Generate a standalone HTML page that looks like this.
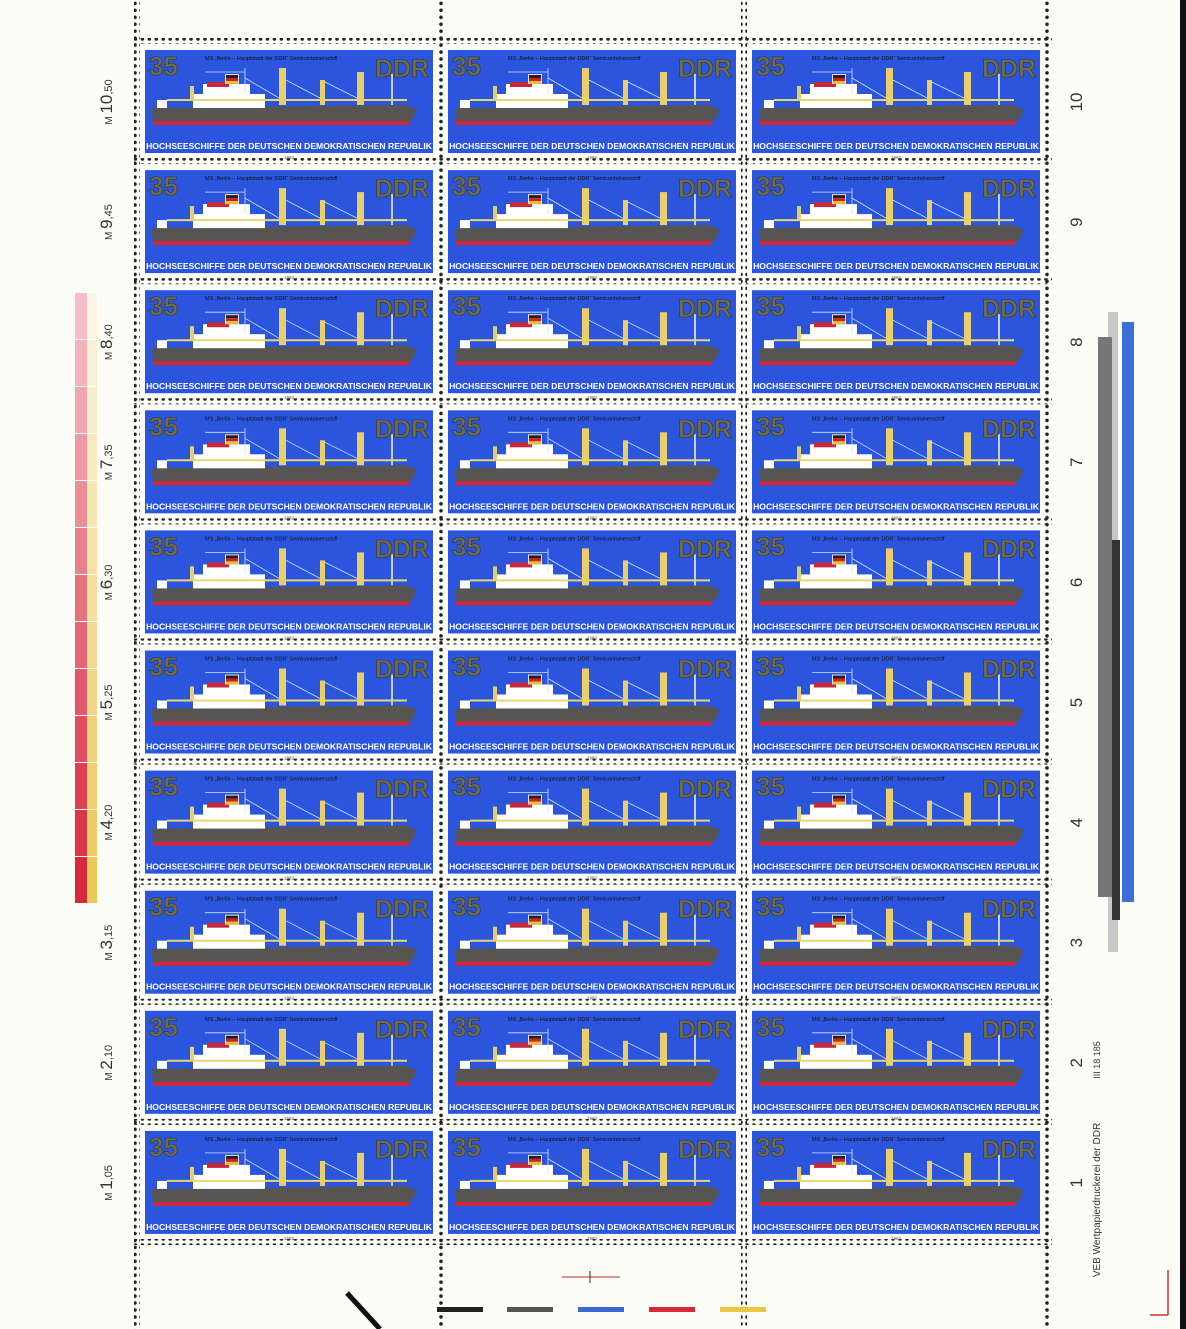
<!DOCTYPE html>
<html><head><meta charset="utf-8"><style>
body{margin:0;background:#fdfdf8;}
svg{display:block}
</style></head><body>
<svg id="s" width="1186" height="1329" viewBox="0 0 1186 1329" xmlns="http://www.w3.org/2000/svg" font-family="Liberation Sans, sans-serif">
<defs>
<g id="ship">
<polygon points="7,58 262,55 272,60 268,68 262,75 8,75" fill="#565553"/>
<rect x="8" y="71" width="256" height="4" fill="#d0263a"/>
<rect x="12" y="50" width="10" height="8" fill="#fff"/>
<rect x="48" y="44" width="72" height="14" fill="#fff"/>
<rect x="58" y="34" width="47" height="11" fill="#fff"/>
<rect x="62" y="32" width="22" height="5" fill="#c8283c"/>
<rect x="80" y="24" width="14" height="10" fill="#e0e0e0"/>
<rect x="81" y="25" width="12" height="3" fill="#222"/>
<rect x="81" y="28" width="12" height="3" fill="#d02020"/>
<rect x="81" y="31" width="12" height="3" fill="#e6c030"/>
<line x1="22" y1="50" x2="262" y2="50" stroke="#e8d670" stroke-width="2"/>
<rect x="134" y="18" width="7" height="37" fill="#e8cf6a"/>
<rect x="175" y="30" width="5" height="25" fill="#e8cf6a"/>
<rect x="212" y="22" width="7" height="33" fill="#e8cf6a"/>
<rect x="45" y="36" width="4" height="14" fill="#e8cf6a"/>
<rect x="246" y="24" width="2" height="31" fill="#ccc"/>
<g stroke="#cfe0ff" stroke-width="0.8" fill="none">
<line x1="100" y1="28" x2="134" y2="48"/><line x1="141" y1="30" x2="175" y2="48"/><line x1="180" y1="32" x2="212" y2="48"/>
<line x1="100" y1="18" x2="100" y2="44"/><line x1="60" y1="22" x2="100" y2="22"/>
</g>
</g>
<pattern id="ph" width="6.95" height="6" patternUnits="userSpaceOnUse"><circle cx="3.4" cy="3" r="1.8" fill="#222"/></pattern>
<pattern id="pv" width="6" height="6.95" patternUnits="userSpaceOnUse"><circle cx="3" cy="3.4" r="1.8" fill="#222"/></pattern>
</defs>
<rect x="1180" y="0" width="6" height="1329" fill="#111"/>
<g id="g"></g>
</svg>
<script>
var g=document.getElementById('g'),h='';
var cols=[145,448,752],pitch=120.1;
var perfX=[137,440,744,1048];
for(var i=0;i<11;i++){var y=41+i*pitch-3;h+='<rect x="134" y="'+y+'" width="918" height="6" fill="url(#ph)"/>';}
perfX.forEach(function(x){h+='<rect x="'+(x-3)+'" y="0" width="6" height="1329" fill="url(#pv)"/>';});
var L=['10,50','9,45','8,40','7,35','6,30','5,25','4,20','3,15','2,10','1,05'];
for(var r=0;r<10;r++){var ty=50+r*pitch;
 cols.forEach(function(cx){
  h+='<g transform="translate('+cx+','+ty+')"><rect x="0" y="0" width="288" height="103" fill="#2a55dc"/>'+
  '<use href="#ship"/>'+
  '<text x="4" y="25" font-size="26" font-weight="bold" fill="#6e6b4c" stroke="#333" stroke-width="0.6">35</text>'+
  '<text x="284" y="27" font-size="25" font-weight="bold" text-anchor="end" fill="#6e6b4c" stroke="#333" stroke-width="0.6">DDR</text>'+
  '<text x="60" y="10" font-size="5.5" fill="#111">MS „Berlin – Hauptstadt der DDR“ Semicontainerschiff</text>'+
  '<text x="144" y="99" font-size="8.6" font-weight="bold" text-anchor="middle" fill="#fff">HOCHSEESCHIFFE DER DEUTSCHEN DEMOKRATISCHEN REPUBLIK</text>'+
  '<text x="144" y="109" font-size="4.5" text-anchor="middle" fill="#555">1982</text></g>';
 });
 var cy=ty+52;
 h+='<text transform="translate(112,'+cy+') rotate(-90)" text-anchor="middle" font-size="17" fill="#333"><tspan font-size="10">M </tspan>'+L[r].split(',')[0]+'<tspan font-size="11">,'+L[r].split(',')[1]+'</tspan></text>';
 h+='<text transform="translate(1082,'+cy+') rotate(-90)" text-anchor="middle" font-size="17" fill="#333">'+(10-r)+'</text>';
}
for(var k=0;k<13;k++){var y=293+k*47;var t=k/12;
 var rc='rgb('+Math.round(245-(245-215)*t)+','+Math.round(190-(190-40)*t)+','+Math.round(200-(200-60)*t)+')';
 var yc='rgb('+Math.round(252-(252-235)*t)+','+Math.round(245-(245-200)*t)+','+Math.round(225-(225-90)*t)+')';
 h+='<rect x="75" y="'+y+'" width="12" height="46" fill="'+rc+'"/><rect x="87" y="'+y+'" width="10" height="46" fill="'+yc+'"/>';
}
h+='<rect x="1122" y="322" width="12" height="580" fill="#3c6fd6"/>';
h+='<rect x="1108" y="312" width="10" height="640" fill="#c8c8c8"/>';
h+='<rect x="1098" y="337" width="14" height="560" fill="#777"/>';
h+='<rect x="1112" y="540" width="8" height="380" fill="#333"/>';
h+='<text transform="translate(1100,1200) rotate(-90)" text-anchor="middle" font-size="10" fill="#333">VEB Wertpapierdruckerei der DDR</text>';
h+='<text transform="translate(1100,1060) rotate(-90)" text-anchor="middle" font-size="9" fill="#333">III 18 185</text>';
h+='<line x1="347" y1="1293" x2="380" y2="1329" stroke="#111" stroke-width="5"/>';
[['#222',437],['#555',507],['#3a6ad6',578],['#d9283a',649],['#e8c840',720]].forEach(function(c){h+='<rect x="'+c[1]+'" y="1307" width="46" height="5" fill="'+c[0]+'"/>';});
h+='<line x1="562" y1="1277" x2="620" y2="1277" stroke="#c03030" stroke-width="1"/><line x1="590" y1="1271" x2="590" y2="1283" stroke="#222"/>';
h+='<line x1="1168" y1="1270" x2="1168" y2="1315" stroke="#d03030" stroke-width="1.5"/><line x1="1150" y1="1315" x2="1168" y2="1315" stroke="#d03030" stroke-width="1.5"/>';
g.innerHTML=h;
</script>
</body></html>
